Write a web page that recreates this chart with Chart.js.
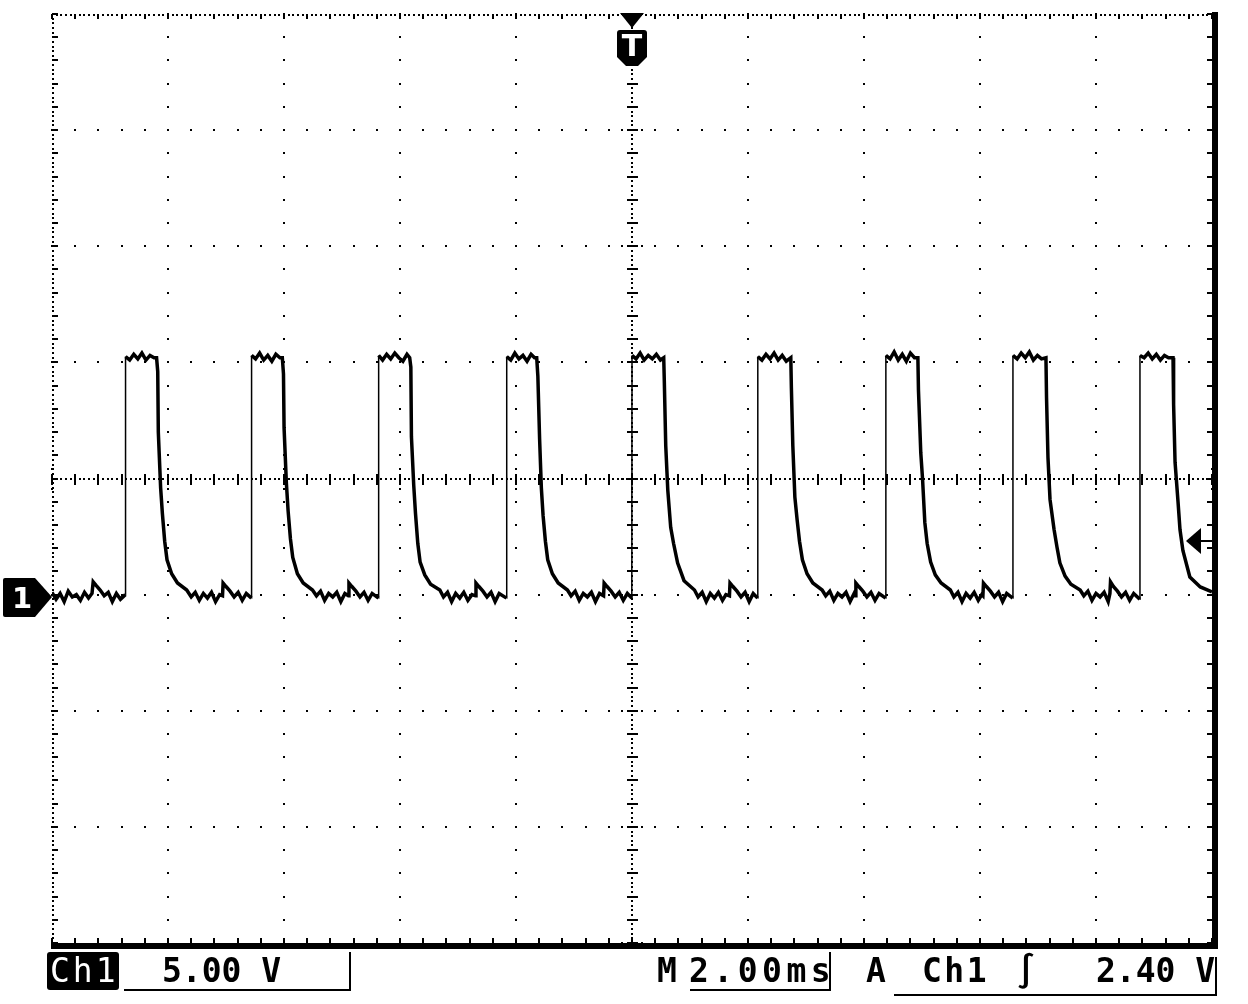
<!DOCTYPE html>
<html><head><meta charset="utf-8">
<script src="https://cdn.jsdelivr.net/npm/chart.js@4.4.1/dist/chart.umd.min.js"></script>
<style>
html,body{margin:0;padding:0;background:#fff;}
#wrap{position:relative;width:1248px;height:1004px;overflow:hidden;background:#fff;}
canvas{position:absolute;left:0;top:0;}
.t{position:absolute;font-family:"DejaVu Sans Mono",monospace;font-weight:bold;font-size:33px;line-height:33px;color:#000;white-space:pre;}
.ln{position:absolute;background:#000;}
#chbox{position:absolute;left:47px;top:952px;width:72px;height:38px;background:#000;border-radius:3px;}
#chtxt{position:absolute;left:50px;top:954px;font-family:"DejaVu Sans Mono",monospace;font-size:33px;line-height:33px;color:#fff;letter-spacing:3px;white-space:pre;}
</style></head><body>
<div id="wrap">
<canvas id="c" width="1248" height="1004"></canvas>
<div id="chbox"></div><div id="chtxt">Ch1</div>
<div class="t" style="left:162px;top:954px;">5.00 V</div>
<div class="ln" style="left:124px;top:989px;width:227px;height:2px;"></div>
<div class="ln" style="left:349px;top:952px;width:2px;height:39px;"></div>
<div class="t" style="left:657px;top:954px;">M</div>
<div class="t" style="left:689px;top:954px;letter-spacing:4.5px;">2.00ms</div>
<div class="ln" style="left:690px;top:989px;width:141px;height:2px;"></div>
<div class="ln" style="left:829px;top:952px;width:2px;height:39px;"></div>
<div class="t" style="left:866px;top:954px;">A</div>
<div class="t" style="left:922px;top:954px;letter-spacing:2.5px;">Ch1</div>
<div class="t" style="left:1016px;top:954px;">∫</div>
<div class="t" style="left:1096px;top:954px;">2.40 V</div>
<div class="ln" style="left:894px;top:994px;width:323px;height:2px;"></div>
<div class="ln" style="left:1215px;top:957px;width:2px;height:39px;"></div>
</div>
<script>
// Horizontal axis: time in ms (2.00 ms/div, 10 divisions)
const timeTicksMs = [0, 2, 4, 6, 8, 10, 12, 14, 16, 18, 20];
// Vertical axis: Ch1 volts (5.00 V/div, 8 divisions, ground 1 div below centre)
const voltTicks = [-15, -10, -5, 0, 5, 10, 15, 20, 25];
const triggerTimeMs = 10;
const triggerLevelV = 2.40;
const groundV = 0;

// Ch1 trace samples: [time ms, volts]
const traceSamples = [
  [0.00,0.10],[0.07,-0.20],[0.14,0.05],[0.21,-0.30],[0.28,0.15],[0.35,-0.10],[0.42,0.00],[0.49,-0.25],[0.56,0.10],[0.63,-0.15],[0.69,0.05],[0.71,0.55],[0.76,0.40],[0.83,0.20],[0.90,-0.05],[0.97,0.10],[1.04,-0.30],[1.11,0.05],[1.18,-0.20],[1.265,0.00],
  [1.268,10.25],[1.34,10.10],[1.41,10.35],[1.48,10.15],[1.55,10.40],[1.62,10.10],[1.69,10.30],[1.76,10.20],[1.803,10.20],
  [1.823,9.60],[1.833,7.00],[1.873,4.60],[1.903,3.50],[1.943,2.30],[1.983,1.50],[2.063,0.90],[2.163,0.50],[2.323,0.20],
  [2.40,-0.10],[2.47,0.10],[2.54,-0.25],[2.61,0.05],[2.68,-0.15],[2.75,0.10],[2.82,-0.30],[2.89,0.00],[2.94,-0.05],[2.95,0.50],[3.00,0.35],[3.07,0.15],[3.14,-0.10],[3.21,0.10],[3.28,-0.25],[3.35,0.05],[3.438,-0.15],
  [3.441,10.30],[3.51,10.15],[3.58,10.40],[3.65,10.10],[3.72,10.30],[3.79,10.05],[3.86,10.35],[3.93,10.20],[3.971,10.20],
  [3.991,9.50],[4.001,7.20],[4.041,4.80],[4.071,3.60],[4.111,2.40],[4.151,1.60],[4.231,0.90],[4.331,0.50],[4.491,0.20],
  [4.56,-0.05],[4.63,0.15],[4.70,-0.25],[4.77,0.05],[4.84,-0.10],[4.91,0.10],[4.98,-0.30],[5.05,0.05],[5.11,-0.05],[5.12,0.50],[5.17,0.35],[5.24,0.15],[5.31,-0.10],[5.38,0.10],[5.45,-0.25],[5.52,0.05],[5.629,-0.15],
  [5.632,10.30],[5.70,10.10],[5.77,10.35],[5.84,10.15],[5.91,10.40],[5.98,10.20],[6.05,10.05],[6.12,10.35],[6.167,10.20],
  [6.187,9.80],[6.197,6.80],[6.237,4.70],[6.267,3.50],[6.307,2.20],[6.347,1.40],[6.427,0.85],[6.527,0.45],[6.687,0.20],
  [6.75,-0.10],[6.82,0.10],[6.89,-0.30],[6.96,0.05],[7.03,-0.15],[7.10,0.10],[7.17,-0.25],[7.24,0.00],[7.30,-0.05],[7.31,0.50],[7.36,0.35],[7.43,0.15],[7.50,-0.10],[7.57,0.10],[7.64,-0.30],[7.71,0.05],[7.837,-0.15],
  [7.840,10.25],[7.91,10.10],[7.98,10.40],[8.05,10.15],[8.12,10.30],[8.19,10.05],[8.26,10.35],[8.32,10.20],[8.357,10.20],
  [8.377,9.40],[8.407,6.70],[8.437,4.60],[8.467,3.40],[8.507,2.30],[8.547,1.50],[8.627,0.90],[8.727,0.50],[8.887,0.20],
  [8.95,-0.05],[9.02,0.15],[9.09,-0.25],[9.16,0.05],[9.23,-0.10],[9.30,0.10],[9.37,-0.30],[9.44,0.05],[9.51,-0.05],[9.52,0.50],[9.57,0.35],[9.64,0.15],[9.71,-0.10],[9.78,0.10],[9.85,-0.25],[9.92,0.05],[9.997,-0.15],
  [10.000,10.30],[10.07,10.15],[10.14,10.40],[10.21,10.10],[10.28,10.30],[10.35,10.15],[10.42,10.35],[10.49,10.10],[10.547,10.20],
  [10.557,9.20],[10.582,6.40],[10.617,4.50],[10.667,2.90],[10.717,2.20],[10.787,1.36],[10.897,0.60],[11.077,0.20],
  [11.14,-0.10],[11.21,0.10],[11.28,-0.30],[11.35,0.05],[11.42,-0.15],[11.49,0.10],[11.56,-0.25],[11.62,0.00],[11.68,-0.05],[11.69,0.50],[11.74,0.35],[11.81,0.15],[11.88,-0.10],[11.95,0.10],[12.02,-0.30],[12.09,0.05],[12.166,-0.15],
  [12.169,10.25],[12.24,10.10],[12.31,10.35],[12.38,10.15],[12.45,10.40],[12.52,10.10],[12.59,10.30],[12.66,10.05],[12.738,10.20],
  [12.748,8.90],[12.773,6.40],[12.808,4.20],[12.848,3.20],[12.888,2.30],[12.938,1.50],[13.018,0.90],[13.118,0.50],[13.278,0.20],
  [13.34,-0.05],[13.41,0.15],[13.48,-0.25],[13.55,0.05],[13.62,-0.10],[13.69,0.10],[13.76,-0.30],[13.83,0.05],[13.85,-0.05],[13.86,0.50],[13.91,0.35],[13.98,0.15],[14.05,-0.10],[14.12,0.10],[14.19,-0.25],[14.26,0.05],[14.374,-0.15],
  [14.377,10.30],[14.45,10.15],[14.52,10.45],[14.59,10.10],[14.66,10.35],[14.73,10.05],[14.80,10.40],[14.87,10.20],[14.929,10.20],
  [14.939,8.80],[14.979,6.10],[15.009,5.00],[15.049,3.10],[15.089,2.20],[15.149,1.40],[15.229,0.85],[15.329,0.50],[15.489,0.20],
  [15.55,-0.10],[15.62,0.10],[15.69,-0.30],[15.76,0.05],[15.83,-0.15],[15.90,0.10],[15.97,-0.25],[16.03,0.00],[16.05,-0.05],[16.06,0.50],[16.11,0.35],[16.18,0.15],[16.25,-0.10],[16.32,0.10],[16.39,-0.30],[16.46,0.05],[16.565,-0.15],
  [16.568,10.30],[16.64,10.15],[16.71,10.40],[16.78,10.20],[16.85,10.45],[16.92,10.10],[16.99,10.30],[17.06,10.15],[17.137,10.20],
  [17.147,8.50],[17.172,5.90],[17.207,4.10],[17.277,2.80],[17.327,2.05],[17.377,1.37],[17.467,0.80],[17.567,0.45],[17.727,0.20],
  [17.79,-0.05],[17.86,0.15],[17.93,-0.25],[18.00,0.05],[18.07,-0.10],[18.14,0.10],[18.21,-0.30],[18.24,0.05],[18.25,0.55],[18.30,0.35],[18.37,0.15],[18.44,-0.10],[18.51,0.10],[18.58,-0.25],[18.65,0.05],[18.755,-0.20],
  [18.758,10.30],[18.83,10.20],[18.90,10.40],[18.97,10.15],[19.04,10.35],[19.11,10.10],[19.18,10.30],[19.25,10.20],[19.328,10.20],
  [19.338,8.20],[19.363,5.70],[19.414,4.00],[19.448,2.80],[19.498,1.90],[19.618,0.76],[19.798,0.33],[20.00,0.12]
];

const scopeGrid = {
  id: 'scopeGrid',
  beforeDatasetsDraw(chart) {
    const {ctx, chartArea: a, scales: {x, y}} = chart;
    const xs = timeTicksMs.map(v => x.getPixelForValue(v));
    const ys = voltTicks.slice().reverse().map(v => y.getPixelForValue(v));
    const nx = xs.length - 1, ny = ys.length - 1;
    const dx = (xs[nx] - xs[0]) / nx / 5, dy = (ys[ny] - ys[0]) / ny / 5;
    const cxI = Math.floor(nx / 2), cyI = Math.floor(ny / 2);
    const r = Math.round;
    ctx.save();
    ctx.fillStyle = '#000';
    const dot = (px, py, w, h) => ctx.fillRect(r(px) - 1, r(py) - 1, w || 2, h || 2);
    for (let i = 1; i < nx; i++) {
      if (i === cxI) continue;
      for (let k = 0; k <= ny * 5; k++) dot(xs[i], ys[0] + k * dy);
    }
    for (let j = 1; j < ny; j++) {
      if (j === cyI) continue;
      for (let k = 0; k <= nx * 5; k++) dot(xs[0] + k * dx, ys[j]);
    }
    const cx = xs[cxI], cy = ys[cyI];
    for (let k = 0; k <= ny * 25; k++) dot(cx, ys[0] + k * dy / 5, 2, 2);
    for (let k = 0; k <= nx * 25; k++) dot(xs[0] + k * dx / 5, cy, 2, 2);
    for (let k = 0; k <= ny * 5; k++) {
      const py = ys[0] + k * dy;
      ctx.fillRect(r(cx) - 5, r(py) - 1, 11, 2);
      if (k % 5 === 0) { dot(cx - 10, py); dot(cx + 10, py); }
    }
    for (let k = 0; k <= nx * 5; k++) {
      const px = xs[0] + k * dx;
      ctx.fillRect(r(px) - 1, r(cy) - 5, 2, 11);
      if (k % 5 === 0) { dot(px, cy - 10); dot(px, cy + 10); }
    }
    for (let k = 0; k <= ny * 25; k++) dot(a.left + 1, ys[0] + k * dy / 5);
    for (let k = 0; k <= nx * 25; k++) dot(xs[0] + k * dx / 5, a.top + 1);
    for (let k = 0; k <= ny * 5; k++) ctx.fillRect(r(a.left), r(ys[0] + k * dy) - 1, 6, 2);
    for (let k = 0; k <= nx * 5; k++) ctx.fillRect(r(xs[0] + k * dx) - 1, r(a.top), 2, 5);
    ctx.fillRect(r(a.right), r(a.top) - 2, 6, r(a.bottom) - r(a.top) + 8);
    ctx.fillRect(r(a.left) - 1, r(a.bottom), r(a.right) - r(a.left) + 7, 6);
    for (let k = 0; k <= ny * 5; k++) ctx.fillRect(r(a.right) - 5, r(ys[0] + k * dy) - 1, 5, 2);
    for (let k = 0; k <= nx * 5; k++) ctx.fillRect(r(xs[0] + k * dx) - 1, r(a.bottom) - 5, 2, 5);
    ctx.restore();
  },
  afterDatasetsDraw(chart) {
    const {ctx, chartArea: a, scales: {x, y}} = chart;
    ctx.save();
    ctx.fillStyle = '#000';
    const tx = Math.round(x.getPixelForValue(triggerTimeMs));
    ctx.beginPath();
    ctx.moveTo(tx - 12, a.top - 1); ctx.lineTo(tx + 12, a.top - 1); ctx.lineTo(tx, a.top + 14); ctx.closePath(); ctx.fill();
    ctx.beginPath();
    ctx.moveTo(tx - 12, 30); ctx.lineTo(tx + 12, 30); ctx.quadraticCurveTo(tx + 15, 30, tx + 15, 33);
    ctx.lineTo(tx + 15, 57); ctx.lineTo(tx + 6, 66); ctx.lineTo(tx - 6, 66); ctx.lineTo(tx - 15, 57);
    ctx.lineTo(tx - 15, 33); ctx.quadraticCurveTo(tx - 15, 30, tx - 12, 30); ctx.closePath(); ctx.fill();
    ctx.fillStyle = '#fff';
    ctx.font = 'bold 30px "DejaVu Sans"';
    ctx.textAlign = 'center'; ctx.textBaseline = 'alphabetic';
    ctx.fillText('T', tx, 56);
    ctx.fillStyle = '#000';
    const gy = Math.round(y.getPixelForValue(groundV)) + 2;
    ctx.beginPath();
    ctx.moveTo(5, gy - 19); ctx.lineTo(35, gy - 19); ctx.lineTo(a.left, gy); ctx.lineTo(35, gy + 20);
    ctx.lineTo(5, gy + 20); ctx.quadraticCurveTo(3, gy + 20, 3, gy + 18); ctx.lineTo(3, gy - 17);
    ctx.quadraticCurveTo(3, gy - 19, 5, gy - 19); ctx.closePath(); ctx.fill();
    ctx.fillStyle = '#fff';
    ctx.font = 'bold 29px "DejaVu Sans"';
    ctx.fillText('1', 22, gy + 11);
    ctx.fillStyle = '#000';
    const ly = Math.round(y.getPixelForValue(triggerLevelV)) + 2;
    ctx.beginPath();
    ctx.moveTo(a.right - 26, ly); ctx.lineTo(a.right - 11, ly - 13); ctx.lineTo(a.right - 11, ly + 13); ctx.closePath(); ctx.fill();
    ctx.fillRect(a.right - 12, ly - 1, 12, 2);
    ctx.restore();
  }
};

new Chart(document.getElementById('c'), {
  type: 'scatter',
  data: {
    datasets: [{
      label: 'Ch1',
      data: traceSamples.map(([t, v]) => ({x: t, y: v})),
      showLine: true,
      borderColor: '#000',
      backgroundColor: '#000',
      borderWidth: 3,
      borderJoinStyle: 'miter',
      pointRadius: 0,
      tension: 0,
      segment: {
        // fast rising edges are drawn thin, the noisy slow parts thick
        borderWidth: c => (Math.abs(c.p1.x - c.p0.x) < 1 && (c.p0.y - c.p1.y) > 60) ? 1.5 : 3.5
      }
    }]
  },
  options: {
    responsive: false,
    animation: false,
    devicePixelRatio: 1,
    layout: {padding: {left: 52, top: 14, right: 36, bottom: 61}},
    plugins: {legend: {display: false}, tooltip: {enabled: false}},
    scales: {
      x: {type: 'linear', min: 0, max: 20, display: false, ticks: {stepSize: 2}},
      y: {type: 'linear', min: -15, max: 25, display: false, ticks: {stepSize: 5}}
    }
  },
  plugins: [scopeGrid]
});
</script>
</body></html>
